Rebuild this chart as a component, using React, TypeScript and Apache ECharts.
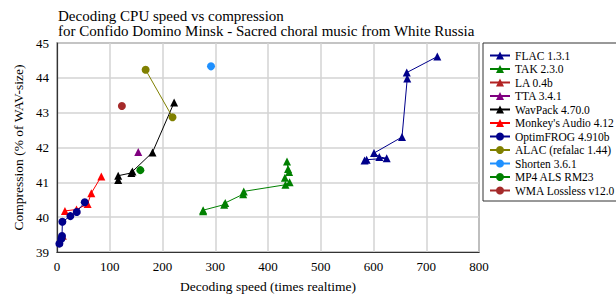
import React, { useEffect, useRef } from "react";
import * as echarts from "echarts";

const titleLines = [
  "Decoding CPU speed vs compression",
  "for Confido Domino Minsk - Sacred choral music from White Russia",
];
const xName = "Decoding speed (times realtime)";
const yName = "Compression (% of WAV-size)";

const flac = [[583, 41.63], [587, 41.65], [625, 41.69], [611, 41.73], [601, 41.84], [654, 42.3], [664, 43.98], [663, 44.15], [721, 44.61]];
const tak = [[277, 40.17], [277, 40.2], [317, 40.36], [319, 40.41], [353, 40.66], [354, 40.74], [433, 40.93], [441, 41.0], [432, 41.13], [440, 41.3], [438, 41.38], [436, 41.6]];
const la = [[11, 39.47]];
const tta = [[154, 41.87]];
const wavpack = [[116, 41.07], [116, 41.19], [141, 41.27], [143, 41.31], [181, 41.86], [222, 43.29]];
const monkeys = [[15, 40.18], [37, 40.22], [58, 40.38], [65, 40.69], [84, 41.17]];
const optimfrog = [[4.5, 39.24], [8.3, 39.38], [9.5, 39.46], [10.2, 39.87], [25.4, 40.03], [37.4, 40.15], [52.6, 40.43]];
const alac = [[168, 44.23], [219, 42.87]];
const shorten = [[292, 44.33]];
const mp4als = [[158, 41.35]];
const wma = [[123, 43.19]];

const seriesDefs = [
  { name: "FLAC 1.3.1", data: flac, color: "#00008b", symbol: "triangle" },
  { name: "TAK 2.3.0", data: tak, color: "#008000", symbol: "triangle" },
  { name: "LA 0.4b", data: la, color: "#b22222", symbol: "triangle" },
  { name: "TTA 3.4.1", data: tta, color: "#800080", symbol: "triangle" },
  { name: "WavPack 4.70.0", data: wavpack, color: "#000000", symbol: "triangle" },
  { name: "Monkey's Audio 4.12", data: monkeys, color: "#ff0000", symbol: "triangle" },
  { name: "OptimFROG 4.910b", data: optimfrog, color: "#00008b", symbol: "circle" },
  { name: "ALAC (refalac 1.44)", data: alac, color: "#808000", symbol: "circle" },
  { name: "Shorten 3.6.1", data: shorten, color: "#1e90ff", symbol: "circle" },
  { name: "MP4 ALS RM23", data: mp4als, color: "#008000", symbol: "circle" },
  { name: "WMA Lossless v12.0", data: wma, color: "#a52a2a", symbol: "circle" },
];

const FONT = "'Liberation Serif', 'Times New Roman', serif";

export default function App() {
  const ref = useRef<HTMLDivElement>(null);
  useEffect(() => {
    if (!ref.current) return;
    const chart = echarts.init(ref.current, null, { renderer: "svg" });
    chart.setOption({
      animation: false,
      backgroundColor: "#ffffff",
      textStyle: { fontFamily: FONT, color: "#000" },
      title: {
        text: titleLines.join("\n"),
        left: 53,
        top: 3,
        textStyle: { fontFamily: FONT, fontSize: 15, fontWeight: "normal", color: "#000", lineHeight: 15 },
      },
      grid: {
        left: 57,
        right: 137,
        top: 43,
        bottom: 45,
        show: true,
        borderColor: "#333",
        borderWidth: 1.2,
      },
      legend: {
        orient: "vertical",
        left: 483,
        top: 43,
        padding: [6, 5, 4, 6],
        itemWidth: 20,
        itemHeight: 10,
        itemGap: 0.5,
        borderColor: "#333",
        borderWidth: 1,
        borderRadius: 0,
        textStyle: { fontFamily: FONT, fontSize: 11.5, color: "#000", lineHeight: 13 },
        data: seriesDefs.map((s) => s.name),
      },
      xAxis: {
        type: "value",
        min: 0,
        max: 800,
        interval: 100,
        name: xName,
        nameLocation: "middle",
        nameGap: 27,
        nameTextStyle: { fontFamily: FONT, fontSize: 13.5, color: "#000" },
        axisLine: { show: true, lineStyle: { color: "#333", width: 1.2 } },
        axisTick: { show: false },
        axisLabel: { fontFamily: FONT, fontSize: 13, color: "#000", margin: 8 },
        splitLine: { show: true, lineStyle: { color: "#d3d3d3", width: 1.5 } },
      },
      yAxis: {
        type: "value",
        min: 39,
        max: 45,
        interval: 1,
        name: yName,
        nameLocation: "middle",
        nameGap: 32,
        nameTextStyle: { fontFamily: FONT, fontSize: 13.5, color: "#000" },
        axisLine: { show: true, lineStyle: { color: "#333", width: 1.2 } },
        axisTick: { show: false },
        axisLabel: { fontFamily: FONT, fontSize: 13, color: "#000", margin: 8 },
        splitLine: { show: true, lineStyle: { color: "#d3d3d3", width: 1.5 } },
      },
      series: seriesDefs.map((s) => ({
        name: s.name,
        type: "line",
        data: s.data,
        symbol: s.symbol,
        symbolSize: 8,
        showAllSymbol: true,
        color: s.color,
        lineStyle: { color: s.color, width: 1 },
        itemStyle: { color: s.color },
      })),
    });
    return () => chart.dispose();
  }, []);
  return (
    <div
      ref={ref}
      style={{ position: "fixed", left: 0, top: 0, width: 616, height: 298 }}
    />
  );
}
